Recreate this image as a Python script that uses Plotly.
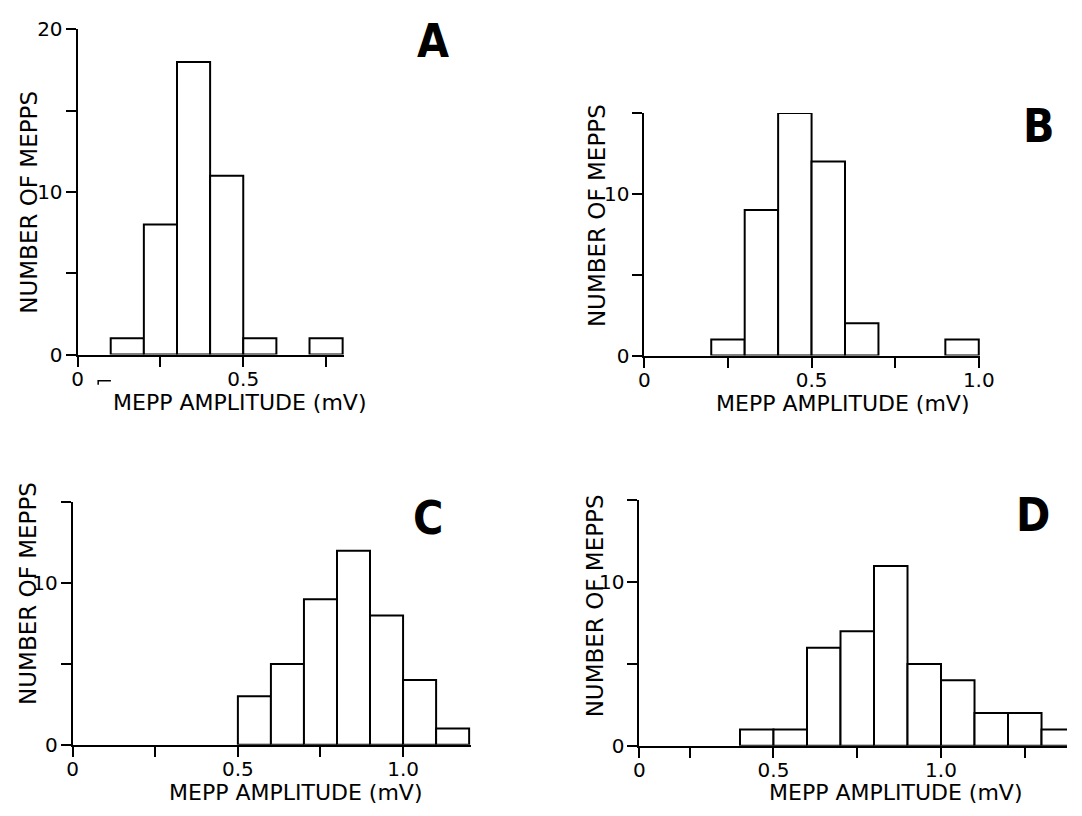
import plotly.graph_objects as go

# ---- data: MEPP amplitude histograms (bin width 0.1 mV) ----
BIN_W = 0.1

a_bin_starts = [0.1, 0.2, 0.3, 0.4, 0.5, 0.6, 0.7]
a_counts = [1, 8, 18, 11, 1, 0, 1]

b_bin_starts = [0.2, 0.3, 0.4, 0.5, 0.6, 0.7, 0.8, 0.9]
b_counts = [1, 9, 15, 12, 2, 0, 0, 1]

c_bin_starts = [0.5, 0.6, 0.7, 0.8, 0.9, 1.0, 1.1]
c_counts = [3, 5, 9, 12, 8, 4, 1]

d_bin_starts = [0.4, 0.5, 0.6, 0.7, 0.8, 0.9, 1.0, 1.1, 1.2, 1.3]
d_counts = [1, 1, 6, 7, 11, 5, 4, 2, 2, 1]

panel_labels = ["A", "B", "C", "D"]
x_title = "MEPP AMPLITUDE (mV)"
y_title = "NUMBER OF MEPPS"

W, H = 1082, 816


def px(x):
    return x / W


def py(y):
    return 1 - y / H


FONT = "DejaVu Sans, Liberation Sans, Arial, sans-serif"
LETTER_FONT = "DejaVu Sans Condensed, Roboto, sans-serif"

panels = [
    dict(starts=a_bin_starts, counts=a_counts,
         xdom=[px(73), px(345)], xrange=[0, 0.805],
         ydom=[py(353), py(18)], yrange=[0, 20],
         xticks=[0, 0.25, 0.5, 0.75], xtext=["0", "", "0.5", ""],
         yticks=[0, 5, 10, 15, 20], ytext=["0", "", "10", "", "20"],
         ytitle=(24, 196), xtitle=(238, 402), letter=(435, 30)),
    dict(starts=b_bin_starts, counts=b_counts,
         xdom=[px(651), px(993.4)], xrange=[0, 1.004],
         ydom=[py(354), py(104)], yrange=[0, 15],
         xticks=[0, 0.25, 0.5, 0.75, 1.0], xtext=["0", "", "0.5", "", "1.0"],
         yticks=[0, 5, 10, 15], ytext=["0", "", "10", ""],
         ytitle=(603, 210), xtitle=(853, 403), letter=(1053, 117)),
    dict(starts=c_bin_starts, counts=c_counts,
         xdom=[px(68), px(474)], xrange=[0, 1.205],
         ydom=[py(755), py(505)], yrange=[0, 15],
         xticks=[0, 0.25, 0.5, 0.75, 1.0], xtext=["0", "", "0.5", "", "1.0"],
         yticks=[0, 5, 10, 15], ytext=["0", "", "10", ""],
         ytitle=(23, 599), xtitle=(295, 804), letter=(430, 521)),
    # panel D: the amplitude axis is broken, its origin sits at 0.1 mV
    dict(starts=d_bin_starts, counts=d_counts,
         xdom=[px(646), 1.0], xrange=[0.1, 1.376],
         ydom=[py(756), py(503.3)], yrange=[0, 15],
         xticks=[0.1, 0.25, 0.5, 0.75, 1.0, 1.25],
         xtext=["0", "", "0.5", "", "1.0", ""],
         yticks=[0, 5, 10, 15], ytext=["0", "", "10", ""],
         ytitle=(601, 612), xtitle=(907, 804), letter=(1047, 518)),
]

fig = go.Figure()
annotations = []

for i, p in enumerate(panels):
    n = i + 1
    xa = "x" if n == 1 else f"x{n}"
    ya = "y" if n == 1 else f"y{n}"
    xs = [s + BIN_W / 2 for s, c in zip(p["starts"], p["counts"]) if c > 0]
    ys = [c for c in p["counts"] if c > 0]
    fig.add_trace(go.Bar(
        x=xs, y=ys, width=BIN_W, xaxis=xa, yaxis=ya,
        marker=dict(color="white", line=dict(color="black", width=2)),
        showlegend=False, hoverinfo="x+y",
    ))

    axis_common = dict(showgrid=False, zeroline=False, showline=True,
                       linecolor="black", linewidth=2, ticks="outside",
                       ticklen=10, tickwidth=2, tickcolor="black",
                       tickmode="array",
                       tickfont=dict(family=FONT, size=20, color="black"))
    fig.layout[f"xaxis{'' if n == 1 else n}"] = dict(
        axis_common, domain=p["xdom"], range=p["xrange"], anchor=ya,
        tickvals=p["xticks"], ticktext=p["xtext"], ticklabelstandoff=-5)
    fig.layout[f"yaxis{'' if n == 1 else n}"] = dict(
        axis_common, domain=p["ydom"], range=p["yrange"], anchor=xa,
        tickvals=p["yticks"], ticktext=p["ytext"], ticklabelstandoff=-1)

    tx, ty = p["ytitle"]
    annotations.append(dict(text=y_title, x=px(tx), y=py(ty), xref="paper",
                            yref="paper", textangle=-90, showarrow=False,
                            xanchor="center", yanchor="middle",
                            font=dict(family=FONT, size=23, color="black")))
    tx, ty = p["xtitle"]
    annotations.append(dict(text=x_title, x=px(tx), y=py(ty), xref="paper",
                            yref="paper", showarrow=False,
                            xanchor="center", yanchor="middle",
                            font=dict(family=FONT, size=22, color="black")))
    lx, ly = p["letter"]
    annotations.append(dict(text=panel_labels[i], x=px(lx), y=py(ly),
                            xref="paper", yref="paper", showarrow=False,
                            xanchor="center", yanchor="middle",
                            font=dict(family=LETTER_FONT, size=46,
                                      color="black", weight=900)))

# small corner mark printed below the first amplitude axis
fig.add_shape(type="path", xref="paper", yref="paper",
              path=f"M {px(94)},{py(384)} L {px(94)},{py(380)} L {px(107)},{py(380)}",
              line=dict(color="black", width=1.5))

fig.update_layout(
    width=W, height=H, autosize=False,
    margin=dict(l=0, r=0, t=0, b=0),
    paper_bgcolor="white", plot_bgcolor="white",
    annotations=annotations,
)

fig.write_html("out.html")
